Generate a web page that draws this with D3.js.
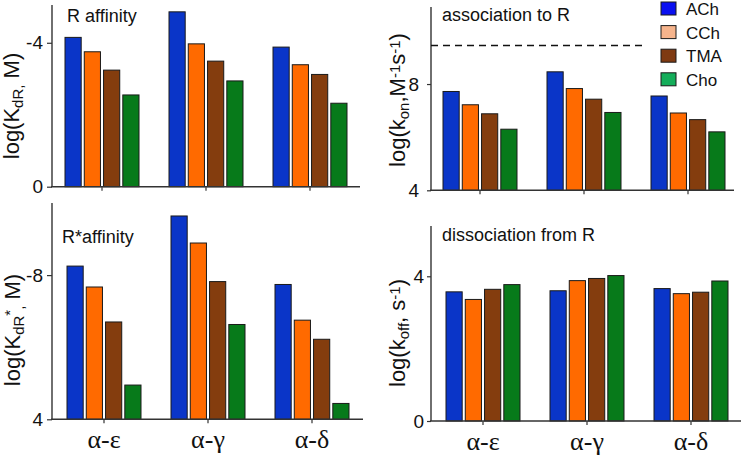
<!DOCTYPE html>
<html>
<head>
<meta charset="utf-8">
<script src="https://cdn.jsdelivr.net/npm/d3@7"></script>
<style>
  html, body { margin: 0; padding: 0; background: #fff; }
  svg { display: block; }
  text { font-family: "Liberation Sans", Arial, sans-serif; fill: #111; }
</style>
</head>
<body>
<svg id="chart" width="742" height="455"></svg>
<script>
// ---------- data ----------
const groups = ["α-ε", "α-γ", "α-δ"];
const agonists = ["ACh", "CCh", "TMA", "Cho"];

// log(KdR, M) per group: ACh, CCh, TMA, Cho
const kdR = [
  [-4.15, -3.75, -3.24, -2.55],
  [-4.86, -3.97, -3.49, -2.94],
  [-3.88, -3.39, -3.12, -2.32]
];
// log(kon, M-1 s-1)
const kon = [
  [7.72, 7.22, 6.88, 6.30],
  [8.46, 7.83, 7.43, 6.93],
  [7.55, 6.91, 6.66, 6.20]
];
// log(KdR*, M)
const kdRstar = [
  [-8.25, -7.67, -6.70, -4.95],
  [-9.64, -8.89, -7.82, -6.63],
  [-7.74, -6.75, -6.22, -4.44]
];
// log(koff, s-1)
const koff = [
  [3.57, 3.36, 3.64, 3.77],
  [3.60, 3.88, 3.94, 4.02],
  [3.66, 3.52, 3.56, 3.87]
];
const diffusionLimit = 9.45;

const kdRTicks = [0, -4],      kdRTickLabels = ["0", "-4"];
const konTicks = [4, 8],       konTickLabels = ["4", "8"];
const kdRstarTicks = [-4, -8], kdRstarTickLabels = ["4", "-8"];
const koffTicks = [0, 4],      koffTickLabels = ["0", "4"];

const panelTitles = ["R affinity", "association to R", "R*affinity", "dissociation from R"];

// ---------- styles ----------
const barColors = ["#0a35c8", "#ff6a00", "#843d0e", "#077a1a"];
const legendColors = ["#0a10f0", "#f6b48c", "#7f3a12", "#14ad5a"];
const axisColor = "#333";

const svg = d3.select("#chart");

const panels = [
  { data: kdR, domain: [0, -5.05], yRange: [186.7, 5], ax: 52, xEnd: 360, bandStart: 50,
    ticks: kdRTicks, tickLabels: kdRTickLabels, tickPad: 4, tickSize: 5,
    title: panelTitles[0], titleX: 67, titleY: 22,
    label: [["log(K", ""], ["dR,", "sub"], [" M)", ""]], labelX: 19, labelCY: 106, showX: false },
  { data: kon, domain: [4, 10.9], yRange: [190.3, 7], ax: 431, xEnd: 734, bandStart: 428,
    ticks: konTicks, tickLabels: konTickLabels, tickPad: 8, tickSize: 4,
    title: panelTitles[1], titleX: 442, titleY: 21,
    label: [["log(k", ""], ["on", "sub"], [",M", ""], ["-1", "sup"], ["s", ""], ["-1", "sup"], [")", ""]],
    labelX: 405, labelCY: 100, showX: false, dashed: diffusionLimit, dashEnd: 643 },
  { data: kdRstar, domain: [-4, -10], yRange: [419.3, 203], ax: 52, xEnd: 363, bandStart: 52,
    ticks: kdRstarTicks, tickLabels: kdRstarTickLabels, tickPad: 4, tickSize: 5,
    title: panelTitles[2], titleX: 62, titleY: 243,
    label: [["log(K", ""], ["dR", "sub"], ["*", "sup"], [",", "sub"], [" M)", ""]], labelX: 20, labelCY: 330, showX: true },
  { data: koff, domain: [0, 5.39], yRange: [421, 226], ax: 431, xEnd: 741, bandStart: 431,
    ticks: koffTicks, tickLabels: koffTickLabels, tickPad: 3, tickSize: 4,
    title: panelTitles[3], titleX: 442, titleY: 241,
    label: [["log(k", ""], ["off", "sub"], [", s", ""], ["-1", "sup"], [")", ""]], labelX: 405, labelCY: 333, showX: true }
];

panels.forEach(p => {
  const g = svg.append("g");
  const y = d3.scaleLinear().domain(p.domain).range(p.yRange);
  const x0 = d3.scaleBand().domain(groups).range([p.bandStart, p.bandStart + 312]).paddingInner(0).paddingOuter(0);
  const x1 = d3.scaleBand().domain(agonists).range([-37, 37]).paddingInner(0.16).paddingOuter(0);
  const base = y(p.domain[0]);

  // bars
  groups.forEach((grp, gi) => {
    const cx = x0(grp) + x0.bandwidth() / 2;
    g.selectAll(null)
      .data(p.data[gi])
      .enter().append("rect")
      .attr("x", (d, i) => cx + x1(agonists[i]))
      .attr("width", x1.bandwidth())
      .attr("y", d => y(d))
      .attr("height", d => base - y(d))
      .attr("fill", (d, i) => barColors[i])
      .attr("stroke", "#1a1a1a")
      .attr("stroke-width", 1);
  });

  // y axis
  const yAxis = d3.axisLeft(y)
    .tickValues(p.ticks)
    .tickFormat((d, i) => p.tickLabels[i])
    .tickSize(p.tickSize)
    .tickPadding(p.tickPad)
    .tickSizeOuter(0);
  const ya = g.append("g").attr("transform", `translate(${p.ax},0)`).call(yAxis);
  ya.select(".domain").attr("stroke", axisColor).attr("stroke-width", 1.4)
    .attr("d", `M0,${p.yRange[1]}V${base}`);
  ya.selectAll(".tick line").attr("stroke", axisColor).attr("stroke-width", 1.2);
  ya.selectAll(".tick text").attr("font-size", 19).attr("fill", "#111")
    .attr("font-family", "Liberation Sans, Arial, sans-serif");

  // x axis
  const xAxis = d3.axisBottom(x0).tickSize(4).tickSizeOuter(0).tickFormat("");
  const xa = g.append("g").attr("transform", `translate(0,${base})`).call(xAxis);
  xa.select(".domain").attr("stroke", axisColor).attr("stroke-width", 1.4)
    .attr("d", `M${p.ax - 1},0H${p.xEnd}`);
  xa.selectAll(".tick line").attr("stroke", axisColor).attr("stroke-width", 1.2);
  if (p.showX) {
    xa.selectAll(".tick").append("text")
      .attr("y", 20)
      .attr("dy", "0.35em")
      .attr("text-anchor", "middle")
      .attr("font-size", 26)
      .style("font-family", "'Liberation Serif', 'Times New Roman', serif")
      .attr("fill", "#111")
      .text(d => d);
  }

  // dashed diffusion limit
  if (p.dashed !== undefined) {
    g.append("line")
      .attr("x1", p.ax).attr("x2", p.dashEnd)
      .attr("y1", y(p.dashed)).attr("y2", y(p.dashed))
      .attr("stroke", "#111").attr("stroke-width", 1.5)
      .attr("stroke-dasharray", "7,5");
  }

  // title
  g.append("text").attr("x", p.titleX).attr("y", p.titleY)
    .attr("font-size", 18).text(p.title);

  // y label
  const lt = g.append("text")
    .attr("transform", `translate(${p.labelX},${p.labelCY}) rotate(-90)`)
    .attr("text-anchor", "middle")
    .attr("font-size", 22);
  p.label.forEach(([t, kind]) => {
    const ts = lt.append("tspan").text(t);
    if (kind === "sub") ts.attr("font-size", 15).attr("baseline-shift", "-25%");
    if (kind === "sup") ts.attr("font-size", 15).attr("baseline-shift", "35%");
  });
});

// legend
const legend = svg.append("g");
agonists.forEach((a, i) => {
  const top = 2 + i * 23.6;
  legend.append("rect")
    .attr("x", 661).attr("y", top).attr("width", 15).attr("height", 13)
    .attr("fill", legendColors[i]).attr("stroke", "#1a1a1a").attr("stroke-width", 1);
  legend.append("text")
    .attr("x", 686).attr("y", top + 7).attr("dy", "0.35em")
    .attr("font-size", 17).text(a);
});
</script>
</body>
</html>
